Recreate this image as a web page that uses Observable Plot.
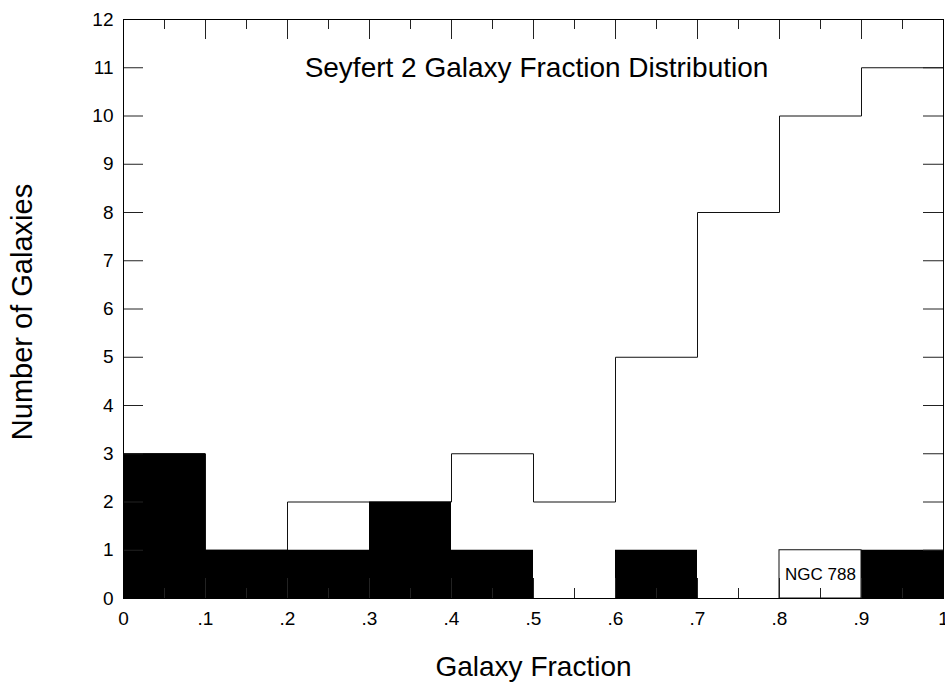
<!DOCTYPE html>
<html>
<head>
<meta charset="utf-8">
<script src="https://cdn.jsdelivr.net/npm/d3@7"></script>
<script src="https://cdn.jsdelivr.net/npm/@observablehq/plot@0.6"></script>
<style>
  html, body { margin: 0; padding: 0; background: #fff; }
  #chart svg { display: block; font-family: "Liberation Sans", Arial, sans-serif; }
</style>
</head>
<body>
<div id="chart"></div>
<script>
// ---- data ----
const binLow   = [0.0, 0.1, 0.2, 0.3, 0.4, 0.5, 0.6, 0.7, 0.8, 0.9];
const binHigh  = [0.1, 0.2, 0.3, 0.4, 0.5, 0.6, 0.7, 0.8, 0.9, 1.0];
const allCounts   = [3, 1, 2, 2, 3, 2, 5, 8, 10, 11];   // open step outline
const blackCounts = [3, 1, 1, 2, 1, 0, 1, 0, 0, 1];     // filled bars
const noteBinLow = [0.8], noteBinHigh = [0.9], noteCount = [1], noteText = ["NGC 788"];

const xTicks      = [0, 0.1, 0.2, 0.3, 0.4, 0.5, 0.6, 0.7, 0.8, 0.9, 1.0];
const xTickLabels = ["0", ".1", ".2", ".3", ".4", ".5", ".6", ".7", ".8", ".9", "1"];
const xMinorTicks = [0.05, 0.15, 0.25, 0.35, 0.45, 0.55, 0.65, 0.75, 0.85, 0.95];
const yTicks      = [0, 1, 2, 3, 4, 5, 6, 7, 8, 9, 10, 11, 12];

const titleText = "Seyfert 2 Galaxy Fraction Distribution";
const xLabel = "Galaxy Fraction";
const yLabel = "Number of Galaxies";

// ---- layout ----
const W = 945, H = 686;
const mL = 123, mR = 2, mT = 19, mB = 88;
const plotW = W - mL - mR, plotH = H - mT - mB;
const majorLen = 20, minorLen = 10;

const bins = binLow.map((lo, i) => ({lo, hi: binHigh[i], all: allCounts[i], black: blackCounts[i]}));
const stepPts = bins.flatMap(b => [{x: b.lo, y: b.all}, {x: b.hi, y: b.all}]);
const notes = noteBinLow.map((lo, i) => ({lo, hi: noteBinHigh[i], n: noteCount[i], text: noteText[i]}));

const chart = Plot.plot({
  width: W, height: H,
  marginLeft: mL, marginRight: mR, marginTop: mT, marginBottom: mB,
  style: {fontFamily: "'Liberation Sans', Arial, sans-serif", background: "#fff"},
  x: {domain: [0, 1], axis: null},
  y: {domain: [0, 12], axis: null},
  marks: [
    Plot.line(stepPts, {x: "x", y: "y", stroke: "#111", strokeWidth: 1}),
    Plot.rect(bins, {x1: "lo", x2: "hi", y1: 0, y2: "black", fill: "black"}),
    Plot.rect(notes, {x1: "lo", x2: "hi", y1: 0, y2: "n", fill: "white", stroke: "#111", strokeWidth: 1}),
    Plot.text(notes, {x: d => (d.lo + d.hi) / 2, y: d => d.n / 2, text: "text", fontSize: 17, fill: "black"}),
    // ticks (inward, all four sides)
    Plot.ruleX(xTicks, {x: d => d, insetTop: plotH - majorLen, stroke: "#222"}),
    Plot.ruleX(xTicks, {x: d => d, insetBottom: plotH - majorLen, stroke: "#222"}),
    Plot.ruleX(xMinorTicks, {x: d => d, insetTop: plotH - minorLen, stroke: "#222"}),
    Plot.ruleX(xMinorTicks, {x: d => d, insetBottom: plotH - minorLen, stroke: "#222"}),
    Plot.ruleY(yTicks, {y: d => d, insetRight: plotW - majorLen, stroke: "#222"}),
    Plot.ruleY(yTicks, {y: d => d, insetLeft: plotW - majorLen, stroke: "#222"}),
    Plot.frame({stroke: "black", strokeWidth: 1}),
    // tick labels
    Plot.text(xTicks, {x: d => d, text: (d, i) => xTickLabels[i], frameAnchor: "bottom", lineAnchor: "top", dy: 13, fontSize: 19, fill: "black"}),
    Plot.text(yTicks, {y: d => d, text: d => String(d), frameAnchor: "left", textAnchor: "end", dx: -10, fontSize: 19, fill: "black"}),
    // title and axis labels
    Plot.text([titleText], {text: d => d, frameAnchor: "top", lineAnchor: "top", dy: 38, dx: 3, fontSize: 28, fill: "black"}),
    Plot.text([xLabel], {text: d => d, frameAnchor: "bottom", lineAnchor: "top", dy: 58, fontSize: 28, fill: "black"}),
    Plot.text([yLabel], {text: d => d, frameAnchor: "left", textAnchor: "middle", rotate: -90, lineAnchor: "middle", dx: -101, dy: 3, fontSize: 29, fill: "black"})
  ]
});
document.getElementById("chart").appendChild(chart);
</script>
</body>
</html>
